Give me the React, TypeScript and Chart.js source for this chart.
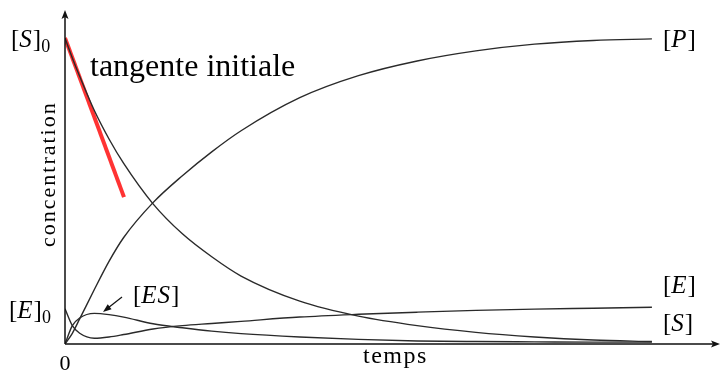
import React, { useEffect, useRef } from "react";
import { Chart, registerables } from "chart.js";

Chart.register(...registerables);

const times = [0, 0.125, 0.25, 0.5, 0.75, 1, 1.5, 2, 2.5, 3, 4, 5, 6, 7, 8, 9, 10];
const substrate = [1.0, 0.935, 0.875, 0.763, 0.67, 0.59, 0.458, 0.36, 0.285, 0.222, 0.14, 0.091, 0.06, 0.038, 0.023, 0.013, 0.008];
const product = [0, 0.035, 0.082, 0.178, 0.27, 0.348, 0.462, 0.55, 0.628, 0.697, 0.805, 0.877, 0.925, 0.958, 0.98, 0.992, 0.997];
const enzyme = [0.115, 0.06, 0.035, 0.019, 0.023, 0.031, 0.049, 0.06, 0.067, 0.074, 0.088, 0.097, 0.104, 0.11, 0.114, 0.117, 0.12];
const complex = [0, 0.06, 0.085, 0.1, 0.096, 0.088, 0.066, 0.053, 0.042, 0.034, 0.023, 0.015, 0.01, 0.008, 0.007, 0.006, 0.006];
const tangentT = [0, 1.005];
const tangentV = [1.0, 0.48];

const X_MAX = 11.16;
const Y_MAX = 1.0915;

const SERIF = '"Liberation Serif", "Times New Roman", serif';

type Part = { t: string; it?: boolean; sub?: boolean };

function drawMath(ctx: CanvasRenderingContext2D, parts: Part[], x: number, y: number, size: number) {
  let cx = x;
  for (const p of parts) {
    const fs = Math.round(p.sub ? size * 0.7 : size);
    ctx.font = `${p.it ? "italic " : ""}${fs}px ${SERIF}`;
    const yy = p.sub ? y + size * 0.18 : y;
    ctx.fillText(p.t, cx, yy);
    cx += ctx.measureText(p.t).width + (p.it ? 1 : 0);
  }
}

const annot = {
  id: "annot",
  afterDraw(chart: any) {
    const ctx: any = chart.ctx;
    const xs = chart.scales.x;
    const ys = chart.scales.y;
    const x0 = xs.getPixelForValue(0);
    const y0 = ys.getPixelForValue(0);
    const xEnd = xs.getPixelForValue(X_MAX);
    const yTop = ys.getPixelForValue(Y_MAX);
    ctx.save();
    ctx.strokeStyle = "#111";
    ctx.fillStyle = "#111";
    ctx.lineWidth = 1.5;
    ctx.beginPath();
    ctx.moveTo(x0, y0);
    ctx.lineTo(xEnd - 6, y0);
    ctx.moveTo(x0, y0);
    ctx.lineTo(x0, yTop + 6);
    ctx.stroke();
    ctx.beginPath();
    ctx.moveTo(xEnd, y0);
    ctx.lineTo(xEnd - 9, y0 - 3.5);
    ctx.lineTo(xEnd - 7, y0);
    ctx.lineTo(xEnd - 9, y0 + 3.5);
    ctx.closePath();
    ctx.fill();
    ctx.beginPath();
    ctx.moveTo(x0, yTop);
    ctx.lineTo(x0 - 3.5, yTop + 9);
    ctx.lineTo(x0, yTop + 7);
    ctx.lineTo(x0 + 3.5, yTop + 9);
    ctx.closePath();
    ctx.fill();

    const ax1 = 122, ay1 = 297, ax2 = 103, ay2 = 312;
    ctx.lineWidth = 1.2;
    ctx.beginPath();
    ctx.moveTo(ax1, ay1);
    ctx.lineTo(ax2 + 4, ay2 - 3.2);
    ctx.stroke();
    const ang = Math.atan2(ay2 - ay1, ax2 - ax1);
    ctx.beginPath();
    ctx.moveTo(ax2, ay2);
    ctx.lineTo(ax2 - 9 * Math.cos(ang - 0.35), ay2 - 9 * Math.sin(ang - 0.35));
    ctx.lineTo(ax2 - 9 * Math.cos(ang + 0.35), ay2 - 9 * Math.sin(ang + 0.35));
    ctx.closePath();
    ctx.fill();

    ctx.fillStyle = "#000";
    ctx.textBaseline = "alphabetic";
    ctx.textAlign = "left";
    drawMath(ctx, [{ t: "[" }, { t: "S", it: true }, { t: "]" }, { t: "0", sub: true }], 11, 47, 25);
    drawMath(ctx, [{ t: "[" }, { t: "E", it: true }, { t: "]" }, { t: "0", sub: true }], 9, 318, 25);
    drawMath(ctx, [{ t: "[" }, { t: "E", it: true }, { t: "S", it: true }, { t: "]" }], 133, 303, 25);
    drawMath(ctx, [{ t: "[" }, { t: "P", it: true }, { t: "]" }], 663, 47, 25);
    drawMath(ctx, [{ t: "[" }, { t: "E", it: true }, { t: "]" }], 663, 293, 25);
    drawMath(ctx, [{ t: "[" }, { t: "S", it: true }, { t: "]" }], 663, 331, 25);

    ctx.font = `32px ${SERIF}`;
    ctx.fillText("tangente initiale", 90, 76);

    ctx.font = `22px ${SERIF}`;
    ctx.textAlign = "center";
    ctx.fillText("0", x0, 370);

    ctx.letterSpacing = "1.5px";
    ctx.textAlign = "left";
    ctx.font = `24px ${SERIF}`;
    ctx.fillText("temps", 363, 363);

    ctx.save();
    ctx.translate(55, 247);
    ctx.rotate(-Math.PI / 2);
    ctx.letterSpacing = "2px";
    ctx.font = `22px ${SERIF}`;
    ctx.textAlign = "left";
    ctx.fillText("concentration", 0, 0);
    ctx.restore();
    ctx.letterSpacing = "0px";
    ctx.restore();
  },
};

export default function App() {
  const ref = useRef<HTMLCanvasElement>(null);
  useEffect(() => {
    document.body.style.margin = "0";
    const toPts = (vals: number[]) => vals.map((v, i) => ({ x: times[i], y: v }));
    const curve = (label: string, vals: number[]) => ({
      label,
      data: toPts(vals),
      borderColor: "#2a2a2a",
      borderWidth: 1.4,
      pointRadius: 0,
      cubicInterpolationMode: "monotone" as const,
      fill: false,
    });
    const chart = new Chart(ref.current!, {
      type: "line",
      data: {
        datasets: [
          curve("[S]", substrate),
          curve("[P]", product),
          curve("[E]", enzyme),
          curve("[ES]", complex),
          {
            label: "tangente initiale",
            data: tangentT.map((t, i) => ({ x: t, y: tangentV[i] })),
            borderColor: "#ff3333",
            borderWidth: 4,
            pointRadius: 0,
            fill: false,
          },
        ],
      },
      options: {
        animation: false,
        responsive: false,
        layout: { padding: { left: 65, right: 0, top: 10, bottom: 32 } },
        plugins: { legend: { display: false }, tooltip: { enabled: false } },
        scales: {
          x: { type: "linear", min: 0, max: X_MAX, display: false },
          y: { type: "linear", min: 0, max: Y_MAX, display: false },
        },
      },
      plugins: [annot],
    });
    return () => chart.destroy();
  }, []);
  return <canvas ref={ref} width={720} height={376} style={{ display: "block" }} />;
}
